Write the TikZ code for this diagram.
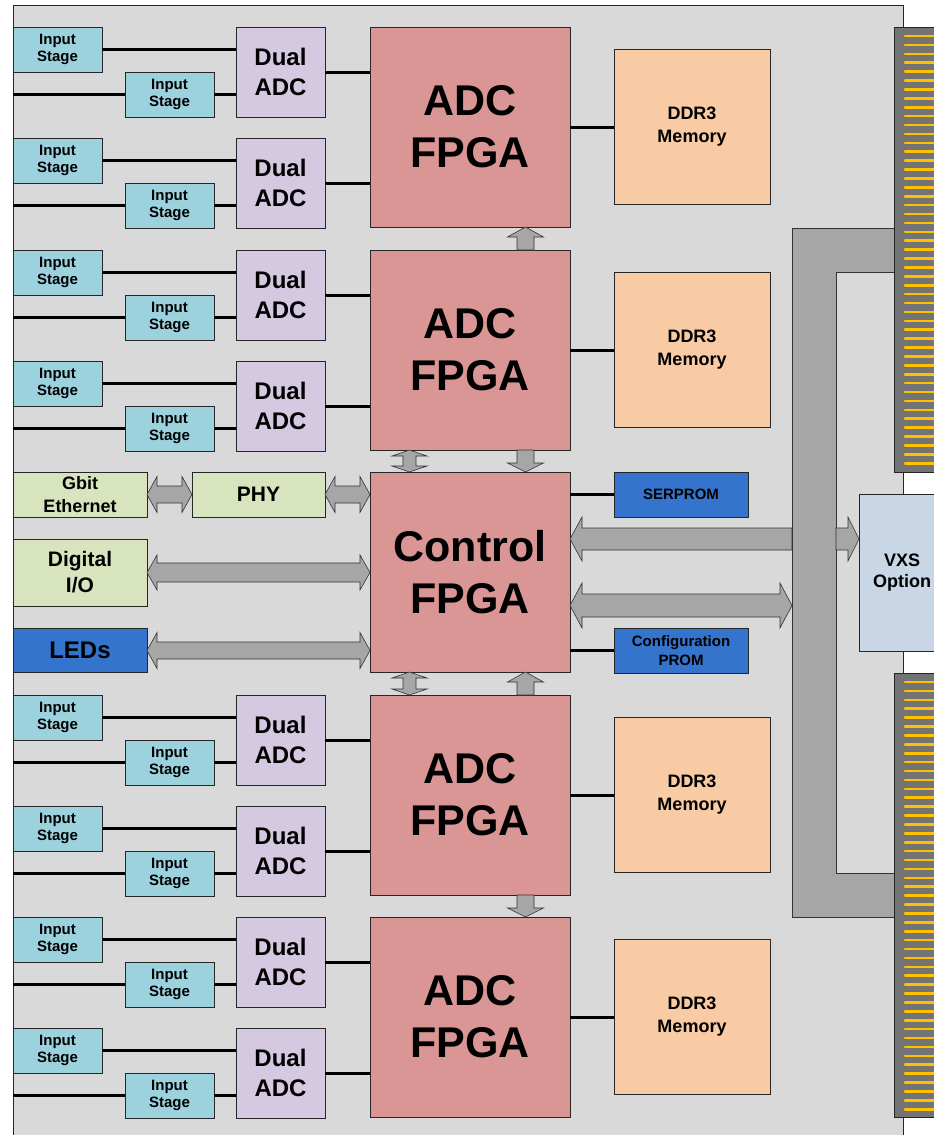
\documentclass[tikz,border=0pt]{standalone}
\usepackage{fontspec}
\setmainfont{Liberation Sans}
\definecolor{cBoard}{HTML}{D9D9D9}
\definecolor{cIn}{HTML}{9BD2DE}
\definecolor{cAdc}{HTML}{D4C9E0}
\definecolor{cFpga}{HTML}{D99694}
\definecolor{cDdr}{HTML}{F9CBA4}
\definecolor{cGreen}{HTML}{D7E4BD}
\definecolor{cBlue}{HTML}{3474CC}
\definecolor{cVxs}{HTML}{C8D6E6}
\definecolor{cBus}{HTML}{A6A6A6}
\definecolor{cConn}{HTML}{737373}
\definecolor{cStripe}{HTML}{FFC000}
\newcommand\hdarr[6]{\draw[blk] (#1,#3) -- ({#1+#6},{#3-#5}) -- ({#1+#6},{#3-#4}) -- ({#2-#6},{#3-#4}) -- ({#2-#6},{#3-#5}) -- (#2,#3) -- ({#2-#6},{#3+#5}) -- ({#2-#6},{#3+#4}) -- ({#1+#6},{#3+#4}) -- ({#1+#6},{#3+#5}) -- cycle;}
\newcommand\hlarr[6]{\draw[blk] (#1,#3) -- ({#1+#6},{#3-#5}) -- ({#1+#6},{#3-#4}) -- (#2,{#3-#4}) -- (#2,{#3+#4}) -- ({#1+#6},{#3+#4}) -- ({#1+#6},{#3+#5}) -- cycle;}
\newcommand\hrarr[6]{\draw[blk] (#1,{#3-#4}) -- ({#2-#6},{#3-#4}) -- ({#2-#6},{#3-#5}) -- (#2,#3) -- ({#2-#6},{#3+#5}) -- ({#2-#6},{#3+#4}) -- (#1,{#3+#4}) -- cycle;}
\newcommand\vdarr[6]{\draw[blk] (#3,#1) -- ({#3-#5},{#1+#6}) -- ({#3-#4},{#1+#6}) -- ({#3-#4},{#2-#6}) -- ({#3-#5},{#2-#6}) -- (#3,#2) -- ({#3+#5},{#2-#6}) -- ({#3+#4},{#2-#6}) -- ({#3+#4},{#1+#6}) -- ({#3+#5},{#1+#6}) -- cycle;}
\newcommand\vuarr[6]{\draw[blk] (#3,#1) -- ({#3-#5},{#1+#6}) -- ({#3-#4},{#1+#6}) -- ({#3-#4},#2) -- ({#3+#4},#2) -- ({#3+#4},{#1+#6}) -- ({#3+#5},{#1+#6}) -- cycle;}
\newcommand\vdnarr[6]{\draw[blk] ({#3-#4},#1) -- ({#3-#4},{#2-#6}) -- ({#3-#5},{#2-#6}) -- (#3,#2) -- ({#3+#5},{#2-#6}) -- ({#3+#4},{#2-#6}) -- ({#3+#4},#1) -- cycle;}
\tikzset{
  bx/.style={draw=black!85, line width=0.8pt, inner sep=0pt, align=center, text=black},
  instage/.style={bx, fill=cIn, minimum width=89pt, minimum height=45pt, font=\bfseries\fontsize{15}{17}\selectfont},
  dadc/.style={bx, fill=cAdc, minimum width=89pt, minimum height=90pt, font=\bfseries\fontsize{24}{30}\selectfont},
  fpga/.style={bx, fill=cFpga, minimum width=200pt, minimum height=200pt, font=\bfseries\fontsize{43}{52}\selectfont},
  ddr/.style={bx, fill=cDdr, minimum width=156pt, minimum height=155pt, font=\bfseries\fontsize{18}{23}\selectfont},
  gbox/.style={bx, fill=cGreen},
  bbox/.style={bx, fill=cBlue},
  wire/.style={line width=3pt, black},
  blk/.style={fill=cBus, draw=black!80, line width=0.6pt},
}
\begin{document}
\begin{tikzpicture}[x=1pt,y=-1pt]
\useasboundingbox (0,0) rectangle (934,1135);
\clip (0,0) rectangle (934,1135);
\fill[white] (0,0) rectangle (934,1135);
% board
\draw[fill=cBoard, draw=black!85, line width=0.8pt] (13,5) rectangle (903,1145);
% FPGA groups
\foreach \T/\n in {27/1,250/2,695/3,917/4}{
  \node[fpga] (f\n) at (470,\T+100) {ADC\\FPGA};
  \node[ddr] (m\n) at (692,\T+100) {DDR3\\Memory};
  \draw[wire] (f\n.east |- m\n.west) -- (m\n.west);
  \foreach \off/\m in {0/a,111/b}{
    \pgfmathsetmacro\A{\T+\off}
    \node[dadc] (d\n\m) at (280.5,\A+45) {Dual\\ADC};
    \node[instage] (u\n\m) at (57.5,\A+22.5) {Input\\Stage};
    \node[instage] (l\n\m) at (169.5,\A+67.5) {Input\\Stage};
    \coordinate (e\n\m) at (13,\A+67.5);
    \draw[wire] (u\n\m.east) -- (d\n\m.west |- u\n\m.east);
    \draw[wire] (e\n\m) -- (l\n\m.west);
    \draw[wire] (l\n\m.east) -- (d\n\m.west |- l\n\m.east);
    \draw[wire] (d\n\m.east) -- (f\n.west |- d\n\m.east);
  }
}
% control FPGA
\node[fpga] (ctrl) at (470,572) {Control\\FPGA};
% left side boxes
\node[gbox, minimum width=134pt, minimum height=45pt, font=\bfseries\fontsize{18}{23}\selectfont] (eth) at (80,494.5) {Gbit\\Ethernet};
\node[gbox, minimum width=133pt, minimum height=45pt, font=\bfseries\fontsize{21}{25}\selectfont] (phy) at (258.5,494.5) {PHY};
\node[gbox, minimum width=134pt, minimum height=67pt, font=\bfseries\fontsize{21}{26}\selectfont] (dio) at (80,572.5) {Digital\\I/O};
\node[bbox, minimum width=134pt, minimum height=44pt, font=\bfseries\fontsize{24}{28}\selectfont] (led) at (80,650) {LEDs};
% right side proms
\node[bbox, minimum width=134pt, minimum height=45pt, font=\bfseries\fontsize{15}{19}\selectfont] (ser) at (681,494.5) {SERPROM};
\node[bbox, minimum width=134pt, minimum height=45pt, font=\bfseries\fontsize{15}{19}\selectfont] (cfg) at (681,650.5) {Configuration\\PROM};
\draw[wire] (ctrl.east |- ser.west) -- (ser.west);
\draw[wire] (ctrl.east |- cfg.west) -- (cfg.west);
% block arrows left
\hdarr{147}{192}{494.5}{8.5}{18}{10}
\hdarr{325}{370}{494.5}{8.5}{18}{10}
\hdarr{147}{370}{572.5}{9.5}{17.5}{10}
\hdarr{147}{370}{650.5}{8.5}{18}{10}
% block arrows between FPGAs
\vuarr{227}{250}{525.5}{8.5}{18}{10}
\vdarr{450}{472}{409.5}{6.5}{17.5}{6}
\vdnarr{450}{472}{525.5}{8.5}{18}{9}
\vdarr{672}{695}{409.5}{6.5}{17.5}{6}
\vuarr{672}{695}{525.5}{8.5}{18}{10}
\vdnarr{895}{917}{525.5}{8.5}{18}{9}
% arrows to bus
\hlarr{570}{792}{539}{11}{22}{12}
\hdarr{570}{792}{605.5}{11.5}{22.5}{12}
% bus
\draw[fill=cBus, draw=black!80, line width=0.8pt] (792,228) -- (894,228) -- (894,272) -- (836,272) -- (836,873) -- (894,873) -- (894,917) -- (792,917) -- cycle;
\hrarr{836}{859}{539}{11}{22}{11}
% connectors
\draw[fill=cConn, draw=black!85, line width=0.8pt] (894,27) rectangle (945,472);
\draw[fill=cConn, draw=black!85, line width=0.8pt] (894,673) rectangle (945,1117);
\foreach \i in {0,...,48}{
  \draw[cStripe, line width=2.6pt, line cap=round] (905,{36+\i*8.9}) -- (945,{36+\i*8.9});
  \draw[cStripe, line width=2.6pt, line cap=round] (905,{682+\i*8.9}) -- (945,{682+\i*8.9});
}
% VXS option
\node[bx, fill=cVxs, minimum width=86pt, minimum height=157pt, font=\bfseries\fontsize{18}{21}\selectfont] (vxs) at (902,572.5) {VXS\\Option};
\end{tikzpicture}
\end{document}
